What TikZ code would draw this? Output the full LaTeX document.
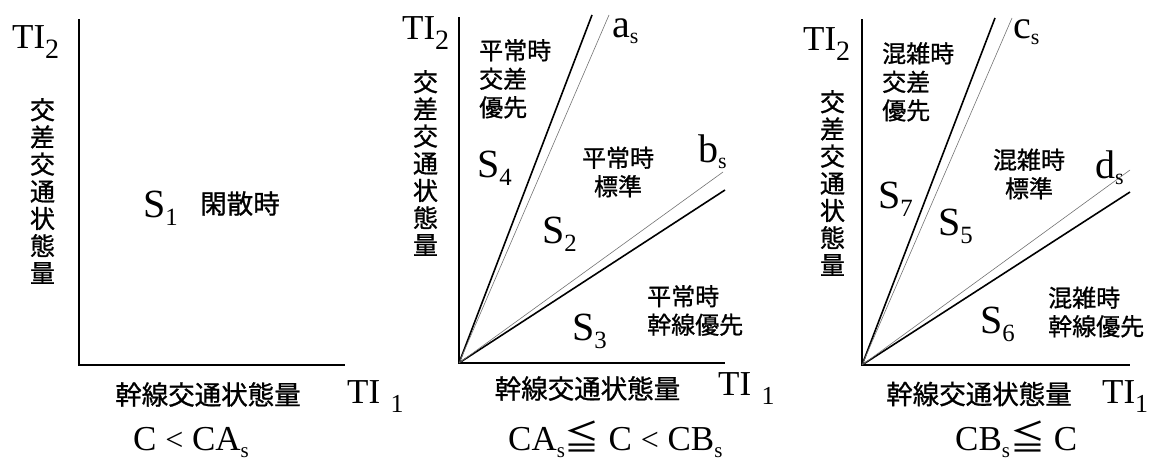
\documentclass[tikz,border=0pt]{standalone}
\usepackage{fontspec}
\usepackage{graphicx}
\setmainfont{Liberation Serif}
\newfontfamily\jp[FakeBold=0.9]{Noto Sans CJK JP}
\newfontfamily\jpsym{Noto Sans CJK JP}
\newcommand\lsub[1]{\raisebox{-0.2em}{\scalebox{0.62}{#1}}}
\newcommand\ssub[1]{\raisebox{-0.16em}{\scalebox{0.55}{#1}}}
\newcommand\tsub[1]{\raisebox{-0.29em}{\scalebox{0.8}{#1}}}
\newcommand\osub[1]{\raisebox{-0.26em}{\scalebox{0.74}{#1}}}
\newcommand\csub[1]{\raisebox{-0.22em}{\scalebox{0.6}{#1}}}
\newcommand\leqq{{\jpsym ≦}}
\tikzset{
  axisline/.style={line width=1.6pt},
  boldline/.style={line width=1.6pt},
  thinline/.style={line width=0.6pt, black!55},
  big/.style={inner sep=0, anchor=base west, font=\fontsize{40}{40}\selectfont},
  tilab/.style={inner sep=0, anchor=base west, font=\fontsize{35}{35}\selectfont},
  tione/.style={inner sep=0, anchor=base west, font=\fontsize{35}{35}\selectfont},
  cond/.style={inner sep=0, anchor=base west, font=\fontsize{35}{35}\selectfont},
  vlab/.style={inner sep=0, align=center, font=\jp\fontsize{25}{27.2}\selectfont},
  hlab/.style={inner sep=0, font=\jp\fontsize{26.5}{26.5}\selectfont},
  rlab/.style={inner sep=0, font=\jp\fontsize{24}{28.5}\selectfont},
}
\begin{document}
\begin{tikzpicture}[x=1pt,y=-1pt]
\useasboundingbox (0,0) rectangle (1149,463);
% ---------- Panel 1 ----------
\coordinate (o1) at (79,365);
\coordinate (y1) at (79,19);
\coordinate (x1) at (345,365);
\draw[axisline] (y1) -- (o1) -- (x1);
\node[tilab] (ti2a) at (12,48) {TI\tsub{2}};
\node[vlab] (va) at (42.5,191) {交\\差\\交\\通\\状\\態\\量};
\node[big] (s1) at (143,217) {S\lsub{1}};
\node[hlab] (r1) at (240,203.5) {閑散時};
\node[hlab] (ha) at (208,394.5) {幹線交通状態量};
\node[tione] (ti1a) at (347,403) {TI\hspace{0.3em}\osub{1}};
\node[cond] (ca) at (133,450) {C {\fontsize{32}{32}\selectfont<} CA\csub{s}};
% ---------- Panel 2 ----------
\coordinate (o2) at (459,363);
\coordinate (y2) at (459,17);
\coordinate (x2) at (725,363);
\coordinate (ea) at (592,15);
\coordinate (eas) at (609,15);
\coordinate (eb) at (725,190);
\coordinate (ebs) at (723,172);
\draw[axisline] (y2) -- (o2) -- (x2);
\draw[boldline] (o2) -- (ea);
\draw[thinline] (o2) -- (eas);
\draw[boldline] (o2) -- (eb);
\draw[thinline] (o2) -- (ebs);
\node[tilab] (ti2b) at (402,39) {TI\tsub{2}};
\node[vlab] (vb) at (425.5,163) {交\\差\\交\\通\\状\\態\\量};
\node[big] (as) at (612,37) {a\ssub{s}};
\node[big] (bs) at (698,162) {b\ssub{s}};
\node[rlab, align=left, anchor=north west] (r4) at (479,39) {平常時\\交差\\優先};
\node[big] (s4) at (477,177) {S\lsub{4}};
\node[rlab, align=center] (r2) at (618,172) {平常時\\標準};
\node[big] (s2) at (542,243) {S\lsub{2}};
\node[rlab, align=left, anchor=west] (r3) at (647,310.5) {平常時\\幹線優先};
\node[big] (s3) at (572,340) {S\lsub{3}};
\node[hlab] (hb) at (587.5,388.5) {幹線交通状態量};
\node[tione] (ti1b) at (718,395) {TI\hspace{0.3em}\osub{1}};
\node[cond] (cb) at (508,450) {CA\csub{s}\leqq{} C {\fontsize{32}{32}\selectfont<} CB\csub{s}};
% ---------- Panel 3 ----------
\coordinate (o3) at (862,365);
\coordinate (y3) at (862,19);
\coordinate (x3) at (1130,365);
\coordinate (ec) at (995,18);
\coordinate (ecs) at (1012,18);
\coordinate (ed) at (1130,192);
\coordinate (eds) at (1130,170);
\draw[axisline] (y3) -- (o3) -- (x3);
\draw[boldline] (o3) -- (ec);
\draw[thinline] (o3) -- (ecs);
\draw[boldline] (o3) -- (ed);
\draw[thinline] (o3) -- (eds);
\node[tilab] (ti2c) at (803,50) {TI\tsub{2}};
\node[vlab] (vc) at (832.5,183) {交\\差\\交\\通\\状\\態\\量};
\node[big] (cs) at (1013,38) {c\ssub{s}};
\node[big] (ds) at (1095,178) {d\ssub{s}};
\node[rlab, align=left, anchor=north west] (r7) at (882,42) {混雑時\\交差\\優先};
\node[big] (s7) at (878,208) {S\lsub{7}};
\node[big] (s5) at (938,235) {S\lsub{5}};
\node[rlab, align=center] (r5) at (1029,174) {混雑時\\標準};
\node[rlab, align=left, anchor=west] (r6) at (1048,312) {混雑時\\幹線優先};
\node[big] (s6) at (980,333) {S\lsub{6}};
\node[hlab] (hc) at (979,394) {幹線交通状態量};
\node[tione] (ti1c) at (1102,403) {TI\osub{1}};
\node[cond] (cc) at (955,450) {CB\csub{s}\leqq{} C};
\end{tikzpicture}
\end{document}
